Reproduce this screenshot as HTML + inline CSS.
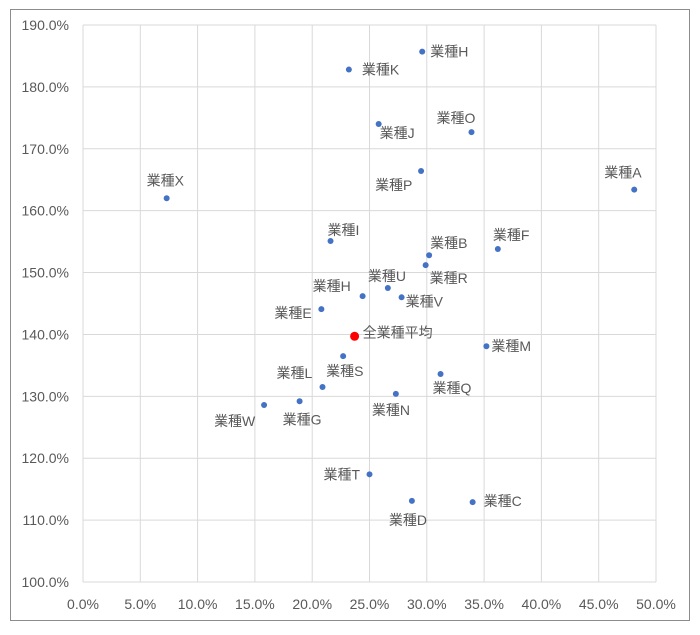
<!DOCTYPE html>
<html><head><meta charset="utf-8"><style>
body{margin:0;background:#fff;}
svg text{font-family:"Liberation Sans","Noto Sans CJK JP",sans-serif;fill:#595959;}
</style></head><body>
<svg id="chart" width="700" height="630" xmlns="http://www.w3.org/2000/svg">
<rect x="10.5" y="9.5" width="679" height="611" fill="#fff" stroke="#8c8c8c"/>
<g id="grid"></g><g id="ticks"></g><g id="pts"></g>
</svg>
<script>
const names=["業種H","業種K","業種J","業種O","業種P","業種A","業種X","業種I","業種B","業種F","業種R","業種U","業種H","業種V","業種E","全業種平均","業種M","業種S","業種Q","業種L","業種N","業種W","業種G","業種T","業種D","業種C"];
const xVals=[29.6,23.2,25.8,33.9,29.5,48.1,7.3,21.6,30.2,36.2,29.9,26.6,24.4,27.8,20.8,23.7,35.2,22.7,31.2,20.9,27.3,15.8,18.9,25.0,28.7,34.0];
const yVals=[185.7,182.8,174.0,172.7,166.4,163.4,162.0,155.1,152.8,153.8,151.2,147.5,146.2,146.0,144.1,139.7,138.1,136.5,133.6,131.5,130.4,128.6,129.2,117.4,113.1,112.9];
const xTicks=[0,5,10,15,20,25,30,35,40,45,50];
const yTicks=[100,110,120,130,140,150,160,170,180,190];
const labelDx=[8,13,1,-35,-46,-30,-20,-3,1,-5,4,-20,-50,4,-47,8,5,-17,-8,-46,-24,-50,-17,-46,-23,11];
const labelDy=[0,0,9,-14,14,-17,-18,-11,-12,-14,13,-12,-10,4,4,-4,0,15,14,-14,16,16,18,0,19,-1];
const X0=83,X1=656,Y0=582,Y1=25;
const sx=v=>X0+(v-0)/50*(X1-X0);
const sy=v=>Y0-(v-100)/90*(Y0-Y1);
const NS="http://www.w3.org/2000/svg";
const grid=document.getElementById('grid'),ticks=document.getElementById('ticks'),pts=document.getElementById('pts');
function mk(tag,attrs,parent){const e=document.createElementNS(NS,tag);for(const k in attrs)e.setAttribute(k,attrs[k]);parent.appendChild(e);return e;}
xTicks.forEach(t=>{
  const l=mk('line',{x1:sx(t),x2:sx(t),y1:Y1,y2:Y0,stroke:'#d9d9d9'},grid);
  
  
  const tx=mk('text',{x:sx(t),y:609,'text-anchor':'middle','font-size':14},ticks);
  tx.textContent=t.toFixed(1)+'%';
  
  
});
yTicks.forEach(t=>{
  const l=mk('line',{x1:X0,x2:X1,y1:sy(t),y2:sy(t),stroke:'#d9d9d9'},grid);
  
  
  const tx=mk('text',{x:69,y:sy(t)+5,'text-anchor':'end','font-size':14},ticks);
  tx.textContent=t.toFixed(1)+'%';
  
  
});
names.forEach((n,i)=>{
  const avg=n==="全業種平均";
  const cx=sx(xVals[i]),cy=sy(yVals[i]);
  const c=mk('circle',{cx:cx,cy:cy,r:avg?4.5:3,fill:avg?'#ff0000':'#4472c4'},pts);
  
  
  const t=mk('text',{x:cx+labelDx[i],y:cy+labelDy[i]+5,'font-size':14},pts);
  t.textContent=n;
  
  
});
</script>
</body></html>
